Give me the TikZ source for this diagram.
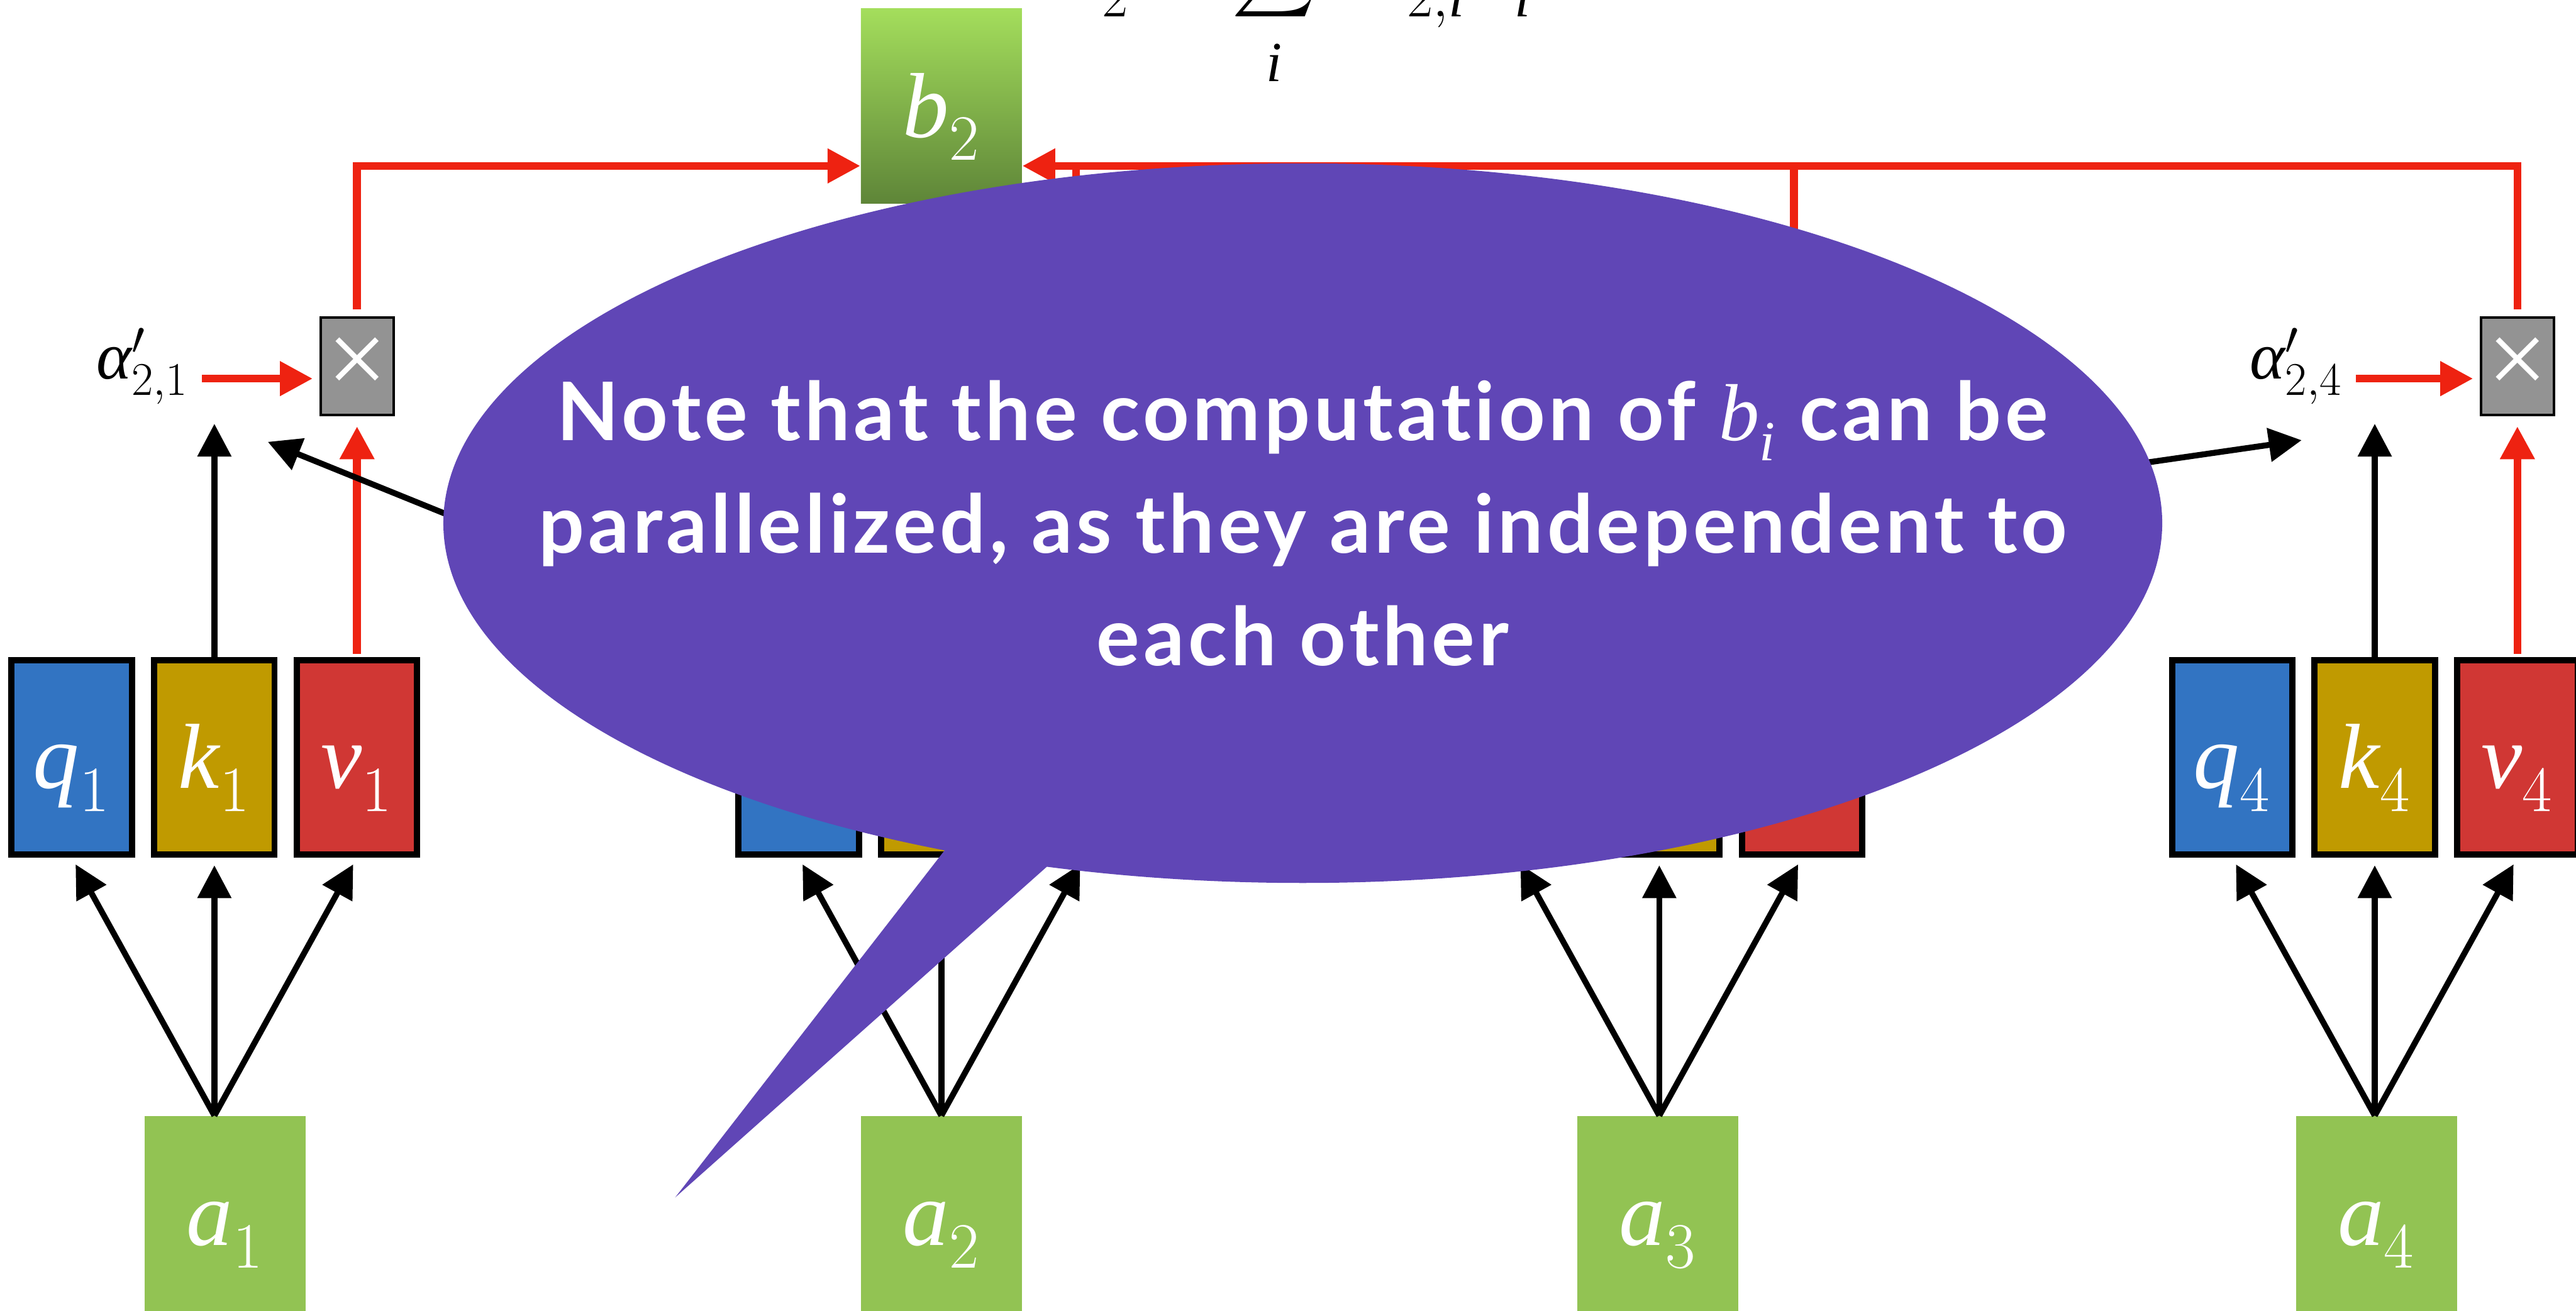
\RequirePackage{fix-cm}
\documentclass[tikz,border=0pt]{standalone}
\usepackage{amsmath}
\usepackage{fontspec}
\setmainfont{Liberation Serif}
\newfontfamily\notefont{Lato}[LetterSpace=4.5, Ligatures=NoCommon]
\usetikzlibrary{arrows.meta,positioning,shapes.geometric,calc}
\definecolor{qblue}{RGB}{50,116,194}
\definecolor{kgold}{RGB}{192,154,0}
\definecolor{vred}{RGB}{208,55,52}
\definecolor{agreen}{RGB}{146,195,83}
\definecolor{btop}{RGB}{164,222,92}
\definecolor{bbot}{RGB}{94,133,56}
\definecolor{mulgray}{RGB}{147,147,147}
\definecolor{linered}{RGB}{238,34,17}
\definecolor{notepurple}{RGB}{96,70,182}
\newcommand{\sym}[2]{\ensuremath{\mathit{#1}^{}_{#2}}}
\newcommand{\alp}{\text{\itshape α}}
\tikzset{
    inbox/.style={rectangle, inner sep=0pt, minimum width=2.45cm, minimum height=2.975cm,
                  text=white, text height=1.1cm, text depth=0.15cm,
                  font=\fontsize{40}{40}\selectfont},
    qkv/.style={inbox, draw=black, line width=0.095cm, fill=#1,
                minimum width=1.83cm, minimum height=2.955cm},
    mulbox/.style={rectangle, draw=black, line width=0.0375cm, fill=mulgray, inner sep=0pt,
                   minimum width=1.11cm, minimum height=1.49cm, text=white,
                   font=\fontsize{46}{46}\selectfont},
    albl/.style={inner sep=0pt, font=\fontsize{29}{29}\selectfont},
    eqn/.style={inner sep=0pt, font=\fontsize{35}{35}\selectfont},
    arr/.style={-{Triangle[length=0.5cm,width=0.5cm]}, line width=0.09cm},
    redarr/.style={-{Triangle[length=0.5cm,width=0.5cm]}, line width=0.12cm, linered},
    redline/.style={line width=0.12cm, linered},
    bubble/.style={ellipse, fill=notepurple, inner sep=0pt,
                   minimum width=26.15cm, minimum height=10.95cm},
    notetext/.style={text=white, align=center, inner sep=0pt,
                     font={\notefont\bfseries\fontsize{35}{48.7}\selectfont}},
}
\begin{document}
\begin{tikzpicture}[x=0.025cm, y=-0.025cm]
    \useasboundingbox (0,0) rectangle (1568,798);
    \clip (0,0) rectangle (1568,798);

    % Weighted sum (cut by the top edge)
    \node[eqn, anchor=base west] (eqn) at (646,-2)
        {$\displaystyle \mathit{b}^{}_2 = \sum_{\rule{0pt}{0.75cm}\mathit{i}}\mkern8mu
          \alp'_{2,\mathit{i}}\, \mathit{v}^{}_{\mathit{i}}$};

    % Output
    \node[inbox, top color=btop, bottom color=bbot] (b2) at (573,64.5) {\sym{b}{2}};
    \coordinate (bus) at (0,101);

    % Inputs and q, k, v
    \foreach \i/\kx/\ax/\lab in {1/130.5/137/1, 2/573/573/, 3/1010/1009/, 4/1445.5/1446.5/4}{
        \node[qkv=kgold] (k\i) at (\kx,461) {\ifx\lab\empty\else\sym{k}{\lab}\fi};
        \node[qkv=qblue, left=0.245cm of k\i]  (q\i) {\ifx\lab\empty\else\sym{q}{\lab}\fi};
        \node[qkv=vred,  right=0.245cm of k\i] (v\i) {\ifx\lab\empty\else\sym{v}{\lab}\fi};
        \node[inbox, fill=agreen] (a\i) at (\ax,739) {\sym{a}{\i}};
        \coordinate (f\i) at (k\i |- a\i.north);
        \draw[arr, shorten >=0.12cm] (f\i) -- (q\i.south);
        \draw[arr, shorten >=0.12cm] (f\i) -- (k\i.south);
        \draw[arr, shorten >=0.12cm] (f\i) -- (v\i.south);
    }

    % Multiply by attention score
    \foreach \i in {1,4}{
        \node[mulbox] (x\i) at (v\i |- 0,223) {×};
        \draw[arr] (k\i.north) -- ++(0,-142);
        \draw[redarr] ([yshift=0.05cm]v\i.north) -- ([yshift=-0.15cm]x\i.south);
    }
    \node[albl, anchor=base east] (al1) at (115,230.5) {$\alp'_{2,1}$};
    \node[albl, anchor=base east] (al4) at (1426,230.5) {$\alp'_{2,4}$};
    \draw[redarr, shorten >=0.1cm] ($(al1.base east)+(8,0)$) -- (al1.base -| x1.west);
    \draw[redarr, shorten >=0.1cm] ($(al4.base east)+(8,0)$) -- (al4.base -| x4.west);

    % Sum into b2
    \coordinate (x2top) at (655,190);
    \coordinate (x3top) at (1092,190);
    \draw[redarr] ([yshift=0.1cm]x1.north) |- (b2.west |- bus);
    \draw[redarr] ([yshift=0.1cm]x4.north) |- (b2.east |- bus);
    \draw[redline] (x2top) -- (x2top |- bus);
    \draw[redline] (x3top) -- (x3top |- bus);

    % Query 2 against the keys
    \coordinate (t1) at (163,269);
    \coordinate (t4) at (1401,268);
    \draw[arr] (q2.north) -- (t1);
    \draw[arr] (q2.north) -- (t4);

    % Callout
    \node[bubble] (note) at (793,318.5) {};
    \coordinate (tailtip) at (411,729);
    \fill[notepurple] ($(note.center)+(-181,151.5)$) -- (tailtip) -- ($(note.center)+(-91,151.5)$) -- cycle;
    \node[notetext] (notetxt) at (note.center)
        {Note that the computation of \sym{b}{\mathit{i}} can be\\
         parallelized, as they are independent to\\
         each other};
\end{tikzpicture}
\end{document}
